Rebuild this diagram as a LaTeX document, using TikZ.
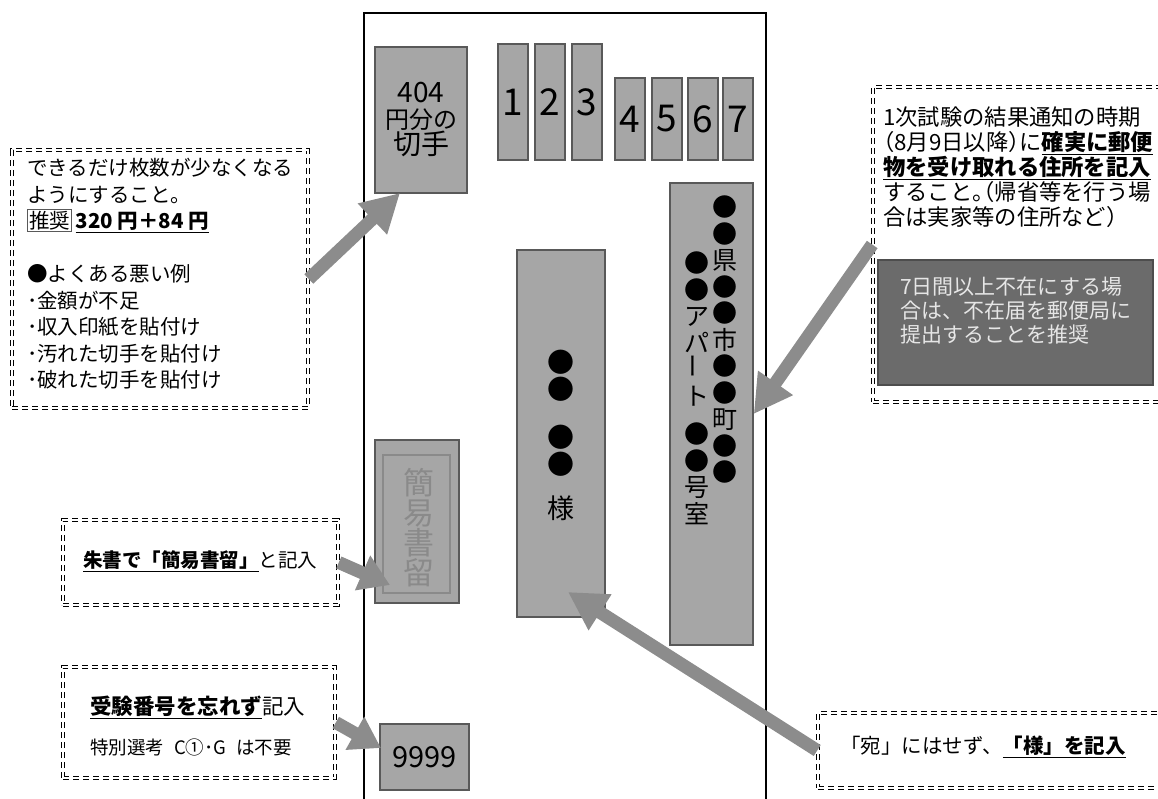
\documentclass[tikz,border=0pt]{standalone}
\usepackage{fontspec}
\setmainfont{Noto Sans CJK JP}
\usetikzlibrary{arrows.meta}

\definecolor{boxfill}{HTML}{A6A6A6}
\definecolor{boxedge}{HTML}{595959}
\definecolor{arrowgray}{HTML}{8C8C8C}
\definecolor{darkfill}{HTML}{6B6B6B}
\definecolor{darkedge}{HTML}{4D4D4D}
\definecolor{faint}{HTML}{8A8A8A}
\definecolor{lighttext}{HTML}{E6E6E6}

\newcommand\tagbox[1]{{\setlength{\fboxsep}{1pt}\setlength{\fboxrule}{1pt}\fcolorbox{boxedge}{white}{#1}}}

\tikzset{
  box/.style={draw=boxedge, fill=boxfill, line width=1.5pt, inner sep=0pt},
  digitbox/.style={box, minimum width=30pt, font=\fontsize{37}{37}\selectfont},
  note/.style={draw=white, line width=1.6pt, dash pattern=on 6pt off 4pt,
    preaction={draw=black, line width=4pt, dash pattern=on 6pt off 4pt}, inner sep=0pt},
  vtext/.style={align=center, inner sep=0pt, anchor=north},
  ltext/.style={align=left, inner sep=0pt, anchor=north west},
  bigarrow/.style={draw=arrowgray, line width=13pt, -{Triangle[length=38pt,width=40pt]}},
  shortarrow/.style={draw=arrowgray, line width=13pt, -{Triangle[length=30pt,width=36pt]}},
}

\begin{document}
\begin{tikzpicture}[x=1pt,y=-1pt]
  \useasboundingbox (0,0) rectangle (1158,799);

  % envelope
  \draw[line width=2.2pt] (364,805) -- (364,13) -- (766,13) -- (766,805);

  \node (stamp) at (421,120) [box, minimum width=92pt, minimum height=146pt, align=center, font=\fontsize{24}{26}\selectfont] {{\fontsize{28}{28}\selectfont 404}\\円分の\\{\fontsize{28}{28}\selectfont 切手}};

  \node (p1) at (513,102) [digitbox, minimum height=116pt] {1};
  \node (p2) at (550,102) [digitbox, minimum height=116pt] {2};
  \node (p3) at (587,102) [digitbox, minimum height=116pt] {3};
  \node (p4) at (630,119) [digitbox, minimum height=82pt] {4};
  \node (p5) at (667,119) [digitbox, minimum height=82pt] {5};
  \node (p6) at (703,119) [digitbox, minimum height=82pt] {6};
  \node (p7) at (738,119) [digitbox, minimum height=82pt] {7};

  \node (addr) at (711.5,414) [box, minimum width=83pt, minimum height=462pt] {};
  \node (addrR) at (725,196) [vtext, font=\fontsize{25}{26.5}\selectfont] {●\\●\\県\\●\\●\\市\\●\\●\\町\\●\\●};
  \node (addrL) at (697,252) [vtext, font=\fontsize{25}{26.5}\selectfont] {●\\●\\ア\\パ\\\rotatebox{90}{ー}\\ト};
  \node (addrN) at (697,423) [vtext, font=\fontsize{25}{26.5}\selectfont] {●\\●\\号\\室};

  \node (name) at (561,433.5) [box, minimum width=88pt, minimum height=367pt] {};
  \node (nameA) at (561,350) [vtext, font=\fontsize{27}{27}\selectfont] {●\\●};
  \node (nameB) at (561,425) [vtext, font=\fontsize{27}{27}\selectfont] {●\\●};
  \node (sama) at (561,508) [inner sep=0pt, font=\fontsize{27}{27}\selectfont] {様};

  \node (kan) at (417,521.5) [box, minimum width=84pt, minimum height=163pt] {};
  \node (kanIn) at (416.5,524) [draw=faint, line width=1.8pt, minimum width=67pt, minimum height=138pt, inner sep=0pt] {};
  \node (kanV) at (419,468) [vtext, text=faint, font=\fontsize{31}{30}\selectfont] {簡\\易\\書\\留};

  \node (num) at (424.5,757) [box, minimum width=89pt, minimum height=66pt, font=\fontsize{29}{29}\selectfont] {9999};

  \node (leftNote) at (160,279) [note, minimum width=296pt, minimum height=258pt] {};
  \node (leftText) at (27,158) [ltext, font=\fontsize{20.5}{26.5}\selectfont] {できるだけ枚数が少なくなる\\ようにすること。\\\tagbox{推奨}\,\textbf{\underline{320 円＋84 円}}\\ \\●よくある悪い例\\･金額が不足\\･収入印紙を貼付け\\･汚れた切手を貼付け\\･破れた切手を貼付け};

  \node (rightNote) at (1019,244.5) [note, minimum width=292pt, minimum height=315pt] {};
  \node (rightText) at (883,107) [ltext, font=\fontsize{22.3}{25}\selectfont] {1次試験の結果通知の時期\\\kern-.5em（8月9日以降）\kern-.5em に\textbf{\underline{確実に郵便}}\\\textbf{\underline{物を受け取れる住所を記入}}\\すること。\kern-1em（帰省等を行う場\\合は実家等の住所など）};
  \node (dark) at (1015.5,322.5) [draw=darkedge, fill=darkfill, line width=1.5pt, minimum width=275pt, minimum height=125pt] {};
  \node (darkText) at (900,277) [ltext, text=lighttext, font=\fontsize{21}{24}\selectfont] {7日間以上不在にする場\\合は、不在届を郵便局に\\提出することを推奨};

  \node (kanNote) at (200.5,562.5) [note, minimum width=275pt, minimum height=85pt] {};
  \node (kanText) at (83,561) [anchor=west, inner sep=0pt, font=\fontsize{19.5}{19.5}\selectfont] {\textbf{\underline{朱書で「簡易書留」}}と記入};

  \node (numNote) at (199,722.5) [note, minimum width=272pt, minimum height=111pt] {};
  \node (numTextA) at (90,707) [anchor=west, inner sep=0pt, font=\fontsize{21.5}{21.5}\selectfont] {\textbf{\underline{受験番号を忘れず}}記入};
  \node (numTextB) at (90,747) [anchor=west, inner sep=0pt, font=\fontsize{18.5}{18.5}\selectfont] {特別選考\hspace{10pt}C①･G\hspace{10pt}は不要};

  \node (samaNote) at (991.5,750.5) [note, minimum width=347pt, minimum height=75pt] {};
  \node (samaText) at (840,747) [anchor=west, inner sep=0pt, font=\fontsize{20.5}{20.5}\selectfont] {「宛」にはせず、\textbf{\underline{「様」を記入}}};

  \coordinate (stampTip) at (400,193);
  \coordinate (kanTip) at (390,585);
  \coordinate (numTip) at (381,748);
  \coordinate (nameTip) at (568,592);

  \draw[bigarrow] (leftNote.east) -- (stampTip);
  \draw[bigarrow] (rightNote.west) -- (addr.east);
  \draw[shortarrow] (kanNote.east) -- (kanTip);
  \draw[shortarrow] (numNote.east) -- (numTip);
  \draw[bigarrow] (samaNote.west) -- (nameTip);
\end{tikzpicture}
\end{document}
